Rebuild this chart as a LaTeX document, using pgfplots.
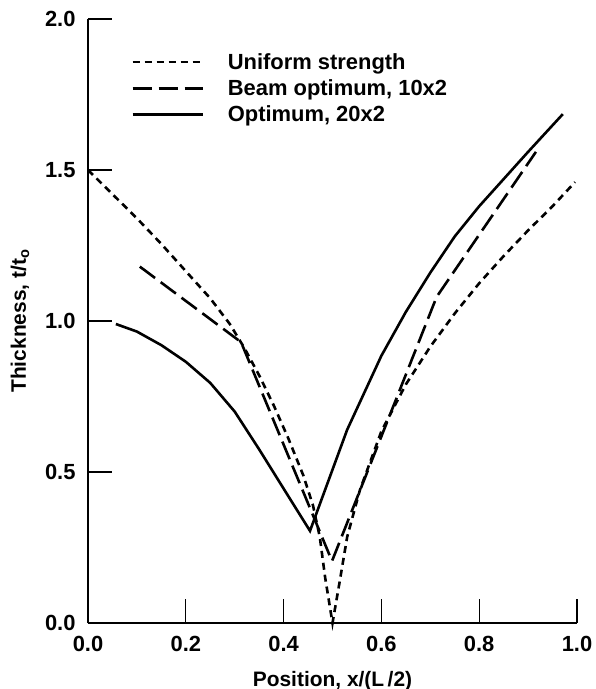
\documentclass[border=0pt]{standalone}
\usepackage{fontspec}
\setmainfont{Liberation Sans}
\usepackage{pgfplots}
\pgfplotsset{compat=1.18}

\begin{document}
\bfseries
\begin{tikzpicture}[x=1bp,y=1bp]
\begin{axis}[
  width=489bp, height=604bp, scale only axis,
  xmin=0, xmax=1, ymin=0, ymax=2,
  axis lines*=left, axis line style={-, line width=1.3pt},
  xtick={0,0.2,0.4,0.6,0.8,1.0}, ytick={0,0.5,1.0,1.5,2.0},
  tick align=inside, major tick length=24bp,
  tick style={line width=1.2pt, black},
  minor tick num=0,
  /pgf/number format/assume math mode=true,
  /pgf/number format/.cd, fixed, fixed zerofill, precision=1, /pgfplots/.cd,
  ticklabel style={font=\fontsize{22}{24}\selectfont\bfseries},
  xticklabel style={yshift=-10bp},
  yticklabel style={xshift=-9bp},
  xlabel={Position, x/(L\,/2)},
  ylabel={Thickness, t/t\textsubscript{o}},
  label style={font=\fontsize{21}{24}\selectfont\bfseries},
  xlabel style={yshift=-12bp},
  ylabel style={yshift=9bp},
  legend style={at={(0.082,0.950)}, anchor=north west, draw=none, fill=none,
    font=\fontsize{22}{24}\selectfont\bfseries, row sep=5bp,
    /tikz/every odd column/.append style={column sep=22bp}},
  legend cell align=left,
  legend image code/.code={\draw[#1] (0bp,0bp) -- (70bp,0bp);},
  clip=false,
]
\addplot[black, line width=2.6bp, dash pattern=on 7bp off 5bp] coordinates {
(0,1.50) (0.05,1.42) (0.10,1.34) (0.15,1.255) (0.20,1.165) (0.25,1.075)
(0.29,0.99) (0.32,0.91) (0.35,0.82) (0.38,0.72) (0.41,0.61) (0.44,0.49)
(0.46,0.39) (0.474,0.285) (0.485,0.15) (0.50,0.0) (0.515,0.14) (0.53,0.285)
(0.556,0.44) (0.60,0.635) (0.65,0.79) (0.70,0.915) (0.75,1.025) (0.80,1.125)
(0.85,1.215) (0.90,1.30) (0.95,1.38) (0.996,1.46)};
\addlegendentry{Uniform strength}
\addplot[black, line width=2.6bp, dash pattern=on 19bp off 7bp] coordinates {
(0.106,1.18) (0.313,0.93) (0.499,0.205) (0.713,1.08) (0.916,1.56)};
\addlegendentry{Beam optimum, 10x2}
\addplot[black, line width=2.6bp] coordinates {
(0.057,0.99) (0.10,0.965) (0.15,0.92) (0.20,0.865) (0.25,0.795) (0.30,0.70)
(0.35,0.575) (0.40,0.445) (0.454,0.305) (0.53,0.64) (0.60,0.885) (0.65,1.03)
(0.70,1.16) (0.75,1.28) (0.80,1.38) (0.85,1.47) (0.90,1.56) (0.971,1.685)};
\addlegendentry{Optimum, 20x2}
\end{axis}
\pgfresetboundingbox
\path (current axis.origin) ++(-88bp,-66bp) rectangle ++(596bp,689bp);
\end{tikzpicture}
\end{document}
